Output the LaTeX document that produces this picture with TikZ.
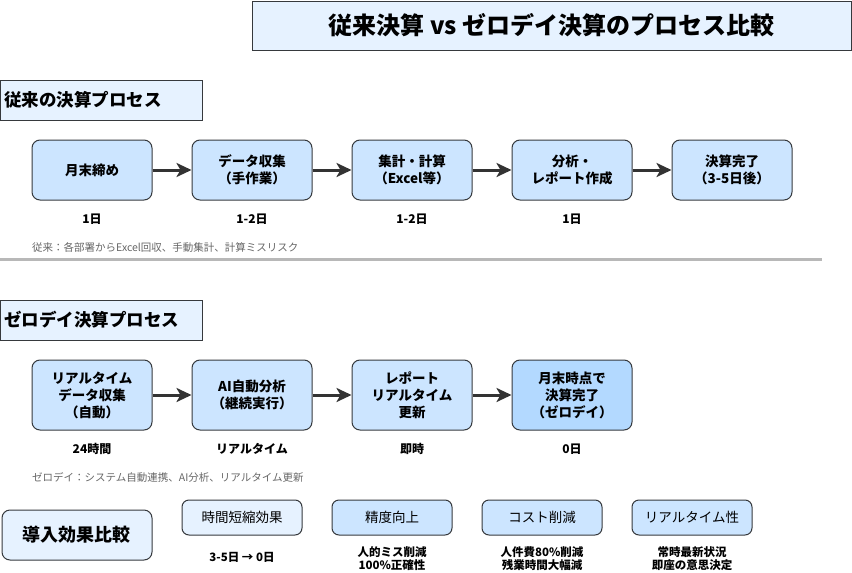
\documentclass[tikz,border=0pt]{standalone}
\usepackage{fontspec}
\setmainfont{Noto Sans CJK JP}
\usetikzlibrary{arrows.meta}
\definecolor{boxline}{HTML}{36393D}
\definecolor{lightfill}{HTML}{E6F2FF}
\definecolor{procfill}{HTML}{CCE5FF}
\definecolor{donefill}{HTML}{B3D9FF}
\definecolor{arrowcol}{HTML}{333333}
\definecolor{notecol}{HTML}{666666}
\definecolor{sepcol}{HTML}{B8B8B8}
\newcommand{\fs}[2]{\fontsize{#1}{#2}\selectfont}
\tikzset{
  titlebox/.style={draw=boxline, fill=lightfill, line width=1pt, inner sep=0pt,
    minimum width=599pt, minimum height=49pt, font=\fs{24}{28}\bfseries},
  headbox/.style={draw=boxline, fill=lightfill, line width=1pt},
  headtext/.style={anchor=west, inner sep=0pt, font=\fs{17.5}{21}\bfseries},
  procbox/.style={draw=boxline, fill=procfill, line width=1pt, rounded corners=8pt,
    minimum width=120pt, minimum height=60pt, inner sep=0pt, align=center,
    font=\fs{13.5}{17}\bfseries},
  zerobox/.style={procbox, minimum height=70pt},
  donebox/.style={zerobox, fill=donefill},
  steplabel/.style={inner sep=0pt, font=\fs{12}{14}\bfseries},
  notetext/.style={anchor=west, inner sep=0pt, text=notecol, font=\fs{10.5}{12}},
  flow/.style={draw=arrowcol, line width=3pt,
    -{Stealth[length=15pt, width=14pt, inset=4pt]}},
  sumbox/.style={draw=boxline, fill=lightfill, line width=1pt, rounded corners=8pt,
    minimum width=150pt, minimum height=50pt, inner sep=0pt, font=\fs{18}{22}\bfseries},
  effbox/.style={draw=boxline, fill=procfill, line width=1pt, rounded corners=7pt,
    minimum width=120pt, minimum height=35pt, inner sep=0pt, font=\fs{13.5}{16}},
  efflight/.style={effbox, fill=lightfill},
  efflabel/.style={inner sep=0pt, align=center, font=\fs{11.5}{13.5}\bfseries}
}
\begin{document}
\begin{tikzpicture}[x=1pt, y=-1pt]
\useasboundingbox (0,0) rectangle (852,573);

% title
\node[titlebox] (title) at (551.5,25.5) {従来決算 vs ゼロデイ決算のプロセス比較};

% section 1 header
\draw[headbox] (0.5,80) rectangle (202,120);
\node[headtext] (head1) at (4,100) {従来の決算プロセス};

% row 1
\node[procbox] (a1) at (92,170) {月末締め};
\node[procbox] (a2) at (252,170) {データ収集\\（手作業）};
\node[procbox] (a3) at (412,170) {集計・計算\\（Excel等）};
\node[procbox] (a4) at (572,170) {分析・\\レポート作成};
\node[procbox] (a5) at (732,170) {決算完了\\（3-5日後）};
\draw[flow] (a1) -- (a2);
\draw[flow] (a2) -- (a3);
\draw[flow] (a3) -- (a4);
\draw[flow] (a4) -- (a5);

\node[steplabel] (l1) at (92,219) {1日};
\node[steplabel] (l2) at (252,219) {1-2日};
\node[steplabel] (l3) at (412,219) {1-2日};
\node[steplabel] (l4) at (572,219) {1日};

\node[notetext] (note1) at (32,247) {従来：各部署からExcel回収、手動集計、計算ミスリスク};

% separator
\draw[sepcol, line width=3pt] (0,259.5) -- (822,259.5);

% section 2 header
\draw[headbox] (0.5,300) rectangle (202,340);
\node[headtext] (head2) at (4,320) {ゼロデイ決算プロセス};

% row 2
\node[zerobox] (b1) at (92,395) {リアルタイム\\データ収集\\（自動）};
\node[zerobox] (b2) at (252,395) {AI自動分析\\（継続実行）};
\node[zerobox] (b3) at (412,395) {レポート\\リアルタイム\\更新};
\node[donebox] (b4) at (572,395) {月末時点で\\決算完了\\（ゼロデイ）};
\draw[flow] (b1) -- (b2);
\draw[flow] (b2) -- (b3);
\draw[flow] (b3) -- (b4);

\node[steplabel] (m1) at (92,449) {24時間};
\node[steplabel] (m2) at (252,449) {リアルタイム};
\node[steplabel] (m3) at (412,449) {即時};
\node[steplabel] (m4) at (572,449) {0日};

\node[notetext] (note2) at (32,477) {ゼロデイ：システム自動連携、AI分析、リアルタイム更新};

% effects
\node[sumbox] (sum) at (77,535) {導入効果比較};
\node[efflight] (e1) at (242,517.5) {時間短縮効果};
\node[effbox] (e2) at (392,517.5) {精度向上};
\node[effbox] (e3) at (542,517.5) {コスト削減};
\node[effbox] (e4) at (692,517.5) {リアルタイム性};

\node[efflabel] (f1) at (242,557) {3-5日 → 0日};
\node[efflabel] (f2) at (392,558.5) {人的ミス削減\\100\%正確性};
\node[efflabel] (f3) at (542,558.5) {人件費80\%削減\\残業時間大幅減};
\node[efflabel] (f4) at (692,558.5) {常時最新状況\\即座の意思決定};
\end{tikzpicture}
\end{document}
